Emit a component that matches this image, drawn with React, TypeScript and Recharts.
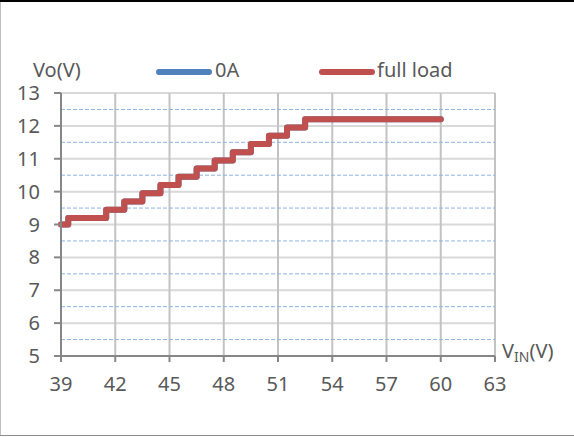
import React from 'react';
import { LineChart, Line, XAxis, YAxis, CartesianGrid } from 'recharts';

// Input voltage breakpoints (V) where the output steps
const vinSteps = [39, 39.4, 41.5, 42.5, 43.5, 44.5, 45.5, 46.5, 47.5, 48.5, 49.5, 50.5, 51.5, 52.5, 60];
// Output voltage (V) at no load
const vo0A = [9.0, 9.2, 9.45, 9.7, 9.95, 10.2, 10.45, 10.7, 10.95, 11.2, 11.45, 11.7, 11.95, 12.2, 12.2];
// Output voltage (V) at full load
const voFullLoad = [9.0, 9.2, 9.45, 9.7, 9.95, 10.2, 10.45, 10.7, 10.95, 11.2, 11.45, 11.7, 11.95, 12.2, 12.2];

const xTicks = [39, 42, 45, 48, 51, 54, 57, 60, 63];
const yTicks = [5, 6, 7, 8, 9, 10, 11, 12, 13];
const yMinor = [5.5, 6.5, 7.5, 8.5, 9.5, 10.5, 11.5, 12.5];

const seriesNames = ['0A', 'full load'];
const seriesColors = ['#4F81BD', '#C0504D'];

const data = vinSteps.map((v, i) => ({ vin: v, a0: vo0A[i], full: voFullLoad[i] }));

const FONT = '"Noto Sans", sans-serif';
const TXT = '#595959';

const LegendOverlay = () => (
  <svg width={574} height={93} style={{ position: 'absolute', left: 0, top: 0, display: 'block' }}>
    <text x={33} y={77} fontFamily={FONT} fontSize={20} fill={TXT}>Vo(V)</text>
    <line x1={159} y1={72} x2={209} y2={72} stroke={seriesColors[0]} strokeWidth={6} strokeLinecap="round" />
    <text x={215} y={77} fontFamily={FONT} fontSize={20} fill={TXT}>{seriesNames[0]}</text>
    <line x1={322} y1={72} x2={372} y2={72} stroke={seriesColors[1]} strokeWidth={6} strokeLinecap="round" />
    <text x={377} y={77} fontFamily={FONT} fontSize={20} fill={TXT}>{seriesNames[1]}</text>
  </svg>
);

const XLabel = () => (
  <text x={502} y={358} fontFamily={FONT} fontSize={20} fill={TXT}>
    <tspan>V</tspan>
    <tspan fontSize={14} dy={4}>IN</tspan>
    <tspan fontSize={20} dy={-4}>(V)</tspan>
  </text>
);

export default function App() {
  return (
    <div style={{ position: 'absolute', left: 0, top: 0, width: 574, height: 437, background: '#fff' }}>
      <div style={{ position: 'absolute', left: 0, top: 0, width: 574, height: 2, background: '#000' }} />
      <div style={{ position: 'absolute', left: 0, top: 2, width: 1, height: 434, background: '#bfbfbf' }} />
      <div style={{ position: 'absolute', left: 0, top: 435, width: 574, height: 1, background: '#8c8c8c' }} />
      <div style={{ position: 'absolute', left: 0, top: 0 }}>
        <LineChart
          width={574}
          height={437}
          data={data}
          margin={{ top: 93, right: 79, bottom: 21, left: 21 }}
        >
          <CartesianGrid horizontal={true} vertical={false} stroke="#d9d9d9" strokeWidth={2} />
          <CartesianGrid horizontal={false} vertical={true} stroke="#c3c3c3" strokeWidth={2} />
          <CartesianGrid
            horizontal={true}
            vertical={false}
            horizontalValues={yMinor}
            stroke="#8db3e2"
            strokeWidth={1}
            strokeDasharray="4 2"
          />
          <XAxis
            dataKey="vin"
            type="number"
            domain={[39, 63]}
            ticks={xTicks}
            interval={0}
            height={60}
            tickSize={6}
            tickMargin={15}
            axisLine={{ stroke: '#868686', strokeWidth: 2 }}
            tickLine={{ stroke: '#868686', strokeWidth: 2 }}
            tick={{ fill: TXT, fontSize: 20, fontFamily: FONT }}
            label={<XLabel />}
          />
          <YAxis
            type="number"
            domain={[5, 13]}
            ticks={yTicks}
            interval={0}
            width={40}
            tickSize={7}
            tickMargin={14}
            axisLine={{ stroke: '#868686', strokeWidth: 2 }}
            tickLine={{ stroke: '#868686', strokeWidth: 2 }}
            tick={{ fill: TXT, fontSize: 20, fontFamily: FONT }}
          />
          <Line
            type="stepAfter"
            dataKey="a0"
            name={seriesNames[0]}
            stroke={seriesColors[0]}
            strokeWidth={6}
            strokeLinecap="round"
            strokeLinejoin="round"
            dot={false}
            activeDot={false}
            isAnimationActive={false}
          />
          <Line
            type="stepAfter"
            dataKey="full"
            name={seriesNames[1]}
            stroke={seriesColors[1]}
            strokeWidth={6}
            strokeLinecap="round"
            strokeLinejoin="round"
            dot={false}
            activeDot={false}
            isAnimationActive={false}
          />
        </LineChart>
      </div>
      <LegendOverlay />
    </div>
  );
}
